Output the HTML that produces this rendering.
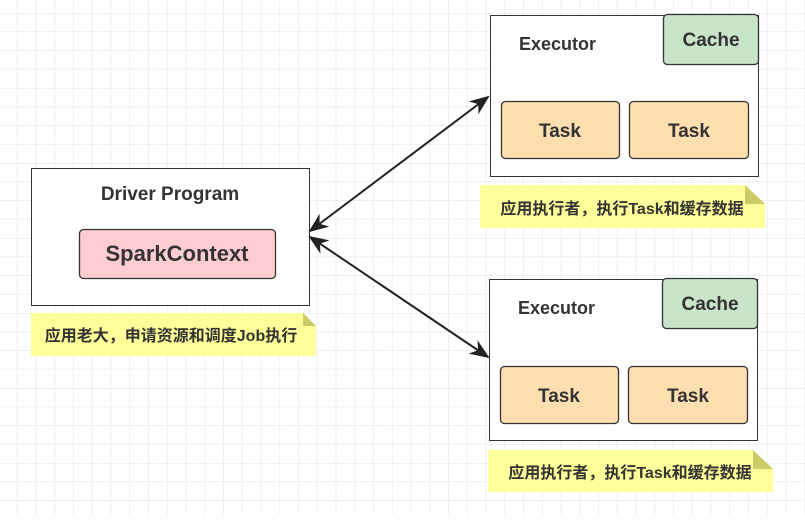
<!DOCTYPE html>
<html><head><meta charset="utf-8"><style>
body{margin:0;width:805px;height:515px;overflow:hidden;background:#fff}
svg text{font-family:"Liberation Sans","Noto Sans CJK SC",sans-serif;font-weight:bold;fill:#333}
</style></head><body>
<svg width="805" height="515" xmlns="http://www.w3.org/2000/svg">
<defs>
<pattern id="g" x="-1.5" y="13" width="75" height="75" patternUnits="userSpaceOnUse">
<path d="M18.75 0V75M37.5 0V75M56.25 0V75M0 0H75M0 18.75H75M0 37.5H75M0 56.25H75" stroke="#efefef" stroke-width="1"/>
<path d="M75 0V75M0 0H75" stroke="#e2e2e2" stroke-width="1"/>
</pattern>
<marker id="a" viewBox="0 0 10 10" refX="9" refY="5" markerWidth="10" markerHeight="10" orient="auto-start-reverse"><path d="M0 1L10 5L0 9L3 5z" fill="#222"/></marker>
</defs>
<rect width="805" height="515" fill="url(#g)"/>
<!-- driver -->
<rect x="31.5" y="168.5" width="278" height="137" fill="#fff" stroke="#333"/>
<text x="170" y="200" font-size="19" text-anchor="middle">Driver Program</text>
<rect x="79.5" y="229.5" width="196" height="49" rx="4" fill="#ffccd1" stroke="#333" stroke-width="1.3"/>
<text x="177" y="261" font-size="22" text-anchor="middle">SparkContext</text>
<path d="M31 313H303L316 326V356H31Z" fill="#ffff99"/><path d="M303 313L316 326H303Z" fill="#cccc66"/>
<text x="171" y="341" font-size="16" text-anchor="middle">应用老大，申请资源和调度Job执行</text>
<!-- exec1 -->
<rect x="490.5" y="15.5" width="268" height="161" fill="#fff" stroke="#333"/>
<text x="519" y="50" font-size="18">Executor</text>
<rect x="663.5" y="14.5" width="95" height="50" rx="4" fill="#c9e5c9" stroke="#333" stroke-width="1.3"/>
<text x="711" y="46" font-size="19" text-anchor="middle">Cache</text>
<rect x="501.5" y="101.5" width="118" height="57" rx="4" fill="#ffdfb0" stroke="#333" stroke-width="1.3"/>
<text x="560" y="137" font-size="19" text-anchor="middle">Task</text>
<rect x="629.5" y="101.5" width="119" height="57" rx="4" fill="#ffdfb0" stroke="#333" stroke-width="1.3"/>
<text x="689" y="137" font-size="19" text-anchor="middle">Task</text>
<path d="M480 185H745L765 204V228H480Z" fill="#ffff99"/><path d="M745 185L765 204H745Z" fill="#cccc66"/>
<text x="622" y="214" font-size="16" text-anchor="middle">应用执行者，执行Task和缓存数据</text>
<!-- exec2 -->
<rect x="489.5" y="279.5" width="268" height="161" fill="#fff" stroke="#333"/>
<text x="518" y="314" font-size="18">Executor</text>
<rect x="662.5" y="278.5" width="95" height="50" rx="4" fill="#c9e5c9" stroke="#333" stroke-width="1.3"/>
<text x="710" y="310" font-size="19" text-anchor="middle">Cache</text>
<rect x="500.5" y="366.5" width="118" height="57" rx="4" fill="#ffdfb0" stroke="#333" stroke-width="1.3"/>
<text x="559" y="402" font-size="19" text-anchor="middle">Task</text>
<rect x="628.5" y="366.5" width="119" height="57" rx="4" fill="#ffdfb0" stroke="#333" stroke-width="1.3"/>
<text x="688" y="402" font-size="19" text-anchor="middle">Task</text>
<path d="M488 450H753L773 469V492H488Z" fill="#ffff99"/><path d="M753 450L773 469H753Z" fill="#cccc66"/>
<text x="630" y="478" font-size="16" text-anchor="middle">应用执行者，执行Task和缓存数据</text>
<!-- arrows -->
<line x1="310" y1="231" x2="488" y2="97" stroke="#222" stroke-width="2" marker-start="url(#a)" marker-end="url(#a)"/>
<line x1="310" y1="237" x2="488" y2="357" stroke="#222" stroke-width="2" marker-start="url(#a)" marker-end="url(#a)"/>
</svg>
</body></html>
